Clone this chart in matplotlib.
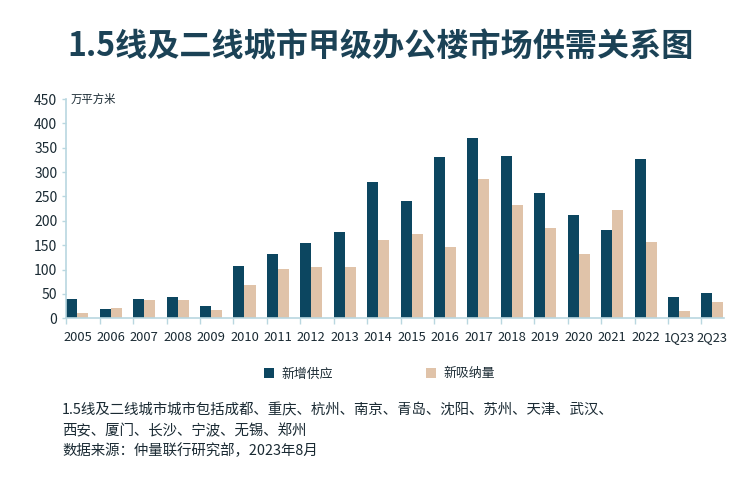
import matplotlib
matplotlib.use("Agg")
import matplotlib.pyplot as plt
import numpy as np

plt.rcParams['font.family'] = ['Noto Sans CJK SC', 'DejaVu Sans']

categories = ["2005", "2006", "2007", "2008", "2009", "2010", "2011", "2012", "2013", "2014",
              "2015", "2016", "2017", "2018", "2019", "2020", "2021", "2022", "1Q23", "2Q23"]
supply = [40, 19, 40, 44, 25, 107, 131, 155, 178, 279,
          240, 330, 370, 334, 258, 211, 181, 326, 43, 51]
absorption = [11, 22, 37, 37, 17, 68, 102, 105, 106, 161,
              172, 146, 286, 232, 186, 133, 223, 156, 16, 34]
yticks = [0, 50, 100, 150, 200, 250, 300, 350, 400, 450]

DARK = "#0c4660"
LIGHT = "#e0c3a9"
AXIS = "#b9d7e0"
TEXT = "#1a2a33"

fig = plt.figure(figsize=(7.44, 4.88), dpi=100)
ax = fig.add_axes([0.0883, 0.3477, 0.8847, 0.4494])

x = np.arange(len(categories))
w = 0.33
ax.bar(x - w / 2, supply, width=w, color=DARK, label="新增供应")
ax.bar(x + w / 2, absorption, width=w, color=LIGHT, label="新吸纳量")

ax.set_xlim(-0.35, len(categories) - 1 + 0.345)
ax.set_ylim(0, 450)
ax.set_yticks(yticks)
ax.set_yticklabels([str(v) for v in yticks], fontsize=10, color=TEXT)
ax.set_xticks(x)
ax.set_xticklabels(categories, fontsize=9.3, color=TEXT)
ax.tick_params(axis='x', length=0, pad=9)
ax.set_xticks(x - w, minor=True)
ax.tick_params(axis='x', which='minor', length=4, color=AXIS, width=1)
ax.tick_params(axis='y', length=3, color=AXIS, width=1, pad=3)

for s in ['top', 'right']:
    ax.spines[s].set_visible(False)
for s in ['left', 'bottom']:
    ax.spines[s].set_color(AXIS)
    ax.spines[s].set_linewidth(1.2)

ax.text(0.007, 1.0, "万平方米", transform=ax.transAxes, fontsize=8.2, color=TEXT,
        ha='left', va='center')

fig.text(0.511, 1 - 47 / 488, "1.5线及二线城市甲级办公楼市场供需关系图", ha='center', va='center',
         fontsize=23.1, color="#1b4256", fontweight='bold')

leg = fig.legend(loc='center', bbox_to_anchor=(0.51, 1 - 374 / 488), ncol=2, frameon=False,
                 fontsize=9.3, handlelength=0.75, handleheight=0.75, columnspacing=7.2,
                 handletextpad=0.6)
for t in leg.get_texts():
    t.set_color(TEXT)

notes = ["1.5线及二线城市城市包括成都、重庆、杭州、南京、青岛、沈阳、苏州、天津、武汉、",
         "西安、厦门、长沙、宁波、无锡、郑州",
         "数据来源：仲量联行研究部，2023年8月"]
ys = [410, 431, 451]
for t, yy in zip(notes, ys):
    fig.text(62 / 744, 1 - yy / 488, t, ha='left', va='center', fontsize=10.4, color=TEXT)

fig.savefig("out.png", dpi=100)
